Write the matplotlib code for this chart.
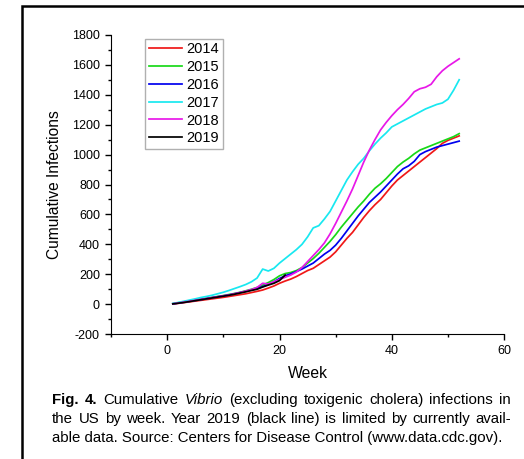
import matplotlib
matplotlib.use('Agg')
import matplotlib.pyplot as plt
from matplotlib.patches import Rectangle
from matplotlib.ticker import MultipleLocator

plt.rcParams['font.family'] = ['Liberation Sans', 'DejaVu Sans']
plt.rcParams['axes.unicode_minus'] = False

# weekly cumulative Vibrio infections
weeks = list(range(1, 53))
y2014 = [2, 6, 11, 16, 21, 26, 31, 36, 41, 46, 52, 58, 64, 70, 78, 86, 95, 108, 122, 140,
         155, 168, 185, 205, 225, 240, 265, 290, 315, 350, 395, 440, 480, 530, 580, 625, 665, 700,
         745, 790, 830, 860, 890, 920, 950, 980, 1010, 1040, 1075, 1095, 1110, 1125]
y2015 = [4, 10, 16, 22, 28, 34, 40, 46, 52, 58, 65, 72, 80, 90, 100, 112, 128, 145, 165, 190,
         205, 212, 225, 245, 275, 305, 340, 380, 420, 465, 515, 560, 605, 650, 690, 735, 775, 805,
         840, 880, 920, 950, 975, 1005, 1030, 1045, 1060, 1075, 1090, 1105, 1120, 1140]
y2016 = [3, 8, 14, 20, 26, 32, 38, 44, 50, 56, 62, 70, 78, 86, 95, 105, 118, 132, 150, 172,
         190, 203, 218, 235, 255, 275, 305, 335, 360, 395, 440, 490, 540, 590, 635, 680, 715, 750,
         790, 830, 870, 905, 925, 955, 1000, 1020, 1035, 1050, 1060, 1070, 1080, 1090]
y2017 = [5, 12, 20, 28, 36, 45, 52, 60, 70, 80, 92, 105, 118, 132, 150, 175, 235, 222, 240, 275,
         305, 335, 365, 400, 450, 510, 525, 570, 620, 690, 760, 830, 885, 935, 975, 1025, 1070, 1110,
         1145, 1185, 1205, 1225, 1245, 1265, 1285, 1305, 1320, 1335, 1345, 1370, 1430, 1500]
y2018 = [3, 8, 14, 20, 26, 32, 38, 44, 50, 56, 62, 70, 78, 88, 98, 112, 140, 135, 150, 165,
         180, 195, 215, 245, 285, 325, 365, 410, 470, 540, 615, 690, 770, 860, 950, 1030, 1100, 1165,
         1215, 1260, 1300, 1335, 1375, 1420, 1440, 1450, 1470, 1520, 1560, 1590, 1615, 1640]
weeks2019 = list(range(1, 22))
y2019 = [2, 7, 12, 18, 24, 30, 36, 42, 48, 54, 60, 67, 75, 83, 92, 100, 115, 128, 140, 158, 195]

series = [('2014', weeks, y2014, '#f01818'),
          ('2015', weeks, y2015, '#18d818'),
          ('2016', weeks, y2016, '#0000ee'),
          ('2017', weeks, y2017, '#18e8f0'),
          ('2018', weeks, y2018, '#e818e8'),
          ('2019', weeks2019, y2019, '#000000')]

fig = plt.figure(figsize=(5.24, 4.59), dpi=100)
ax = fig.add_axes([0.212, 0.272, 0.750, 0.652])

for name, x, y, c in series:
    ax.plot(x, y, color=c, lw=1.25, label=name)

ax.set_xlim(-10, 60)
ax.set_ylim(-200, 1800)
ax.xaxis.set_major_locator(MultipleLocator(20))
ax.xaxis.set_minor_locator(MultipleLocator(10))
ax.yaxis.set_major_locator(MultipleLocator(200))
ax.yaxis.set_minor_locator(MultipleLocator(100))
ax.spines['top'].set_visible(False)
ax.spines['right'].set_visible(False)
ax.tick_params(which='major', direction='out', length=4.5, width=1, labelsize=9)
ax.tick_params(which='minor', direction='out', length=2.5, width=1)
ax.set_xlabel('Week', fontsize=11.3, labelpad=6)
ax.set_ylabel('Cumulative Infections', fontsize=11.2, labelpad=7)

ax.legend(loc='upper left', bbox_to_anchor=(0.0865, 0.987), borderaxespad=0,
          fontsize=10.5, handlelength=2.3, handletextpad=0.3, labelspacing=0.26,
          borderpad=0.25, fancybox=False, framealpha=1, edgecolor='#b0b0b0')

# frame around the whole panel
fig.patches.append(Rectangle((22 / 524, -0.1), 2, 1 - 6 / 459 + 0.1, transform=fig.transFigure,
                             fill=False, edgecolor='black', lw=1.8, clip_on=False))

# justified caption
W, H = 524, 459
left, right = 52, 511
fs = 10.8
line1 = [('Fig.', 'bold', 'normal'), ('4.', 'bold', 'normal'), ('Cumulative', 'normal', 'normal'),
         ('Vibrio', 'normal', 'italic'), ('(excluding', 'normal', 'normal'),
         ('toxigenic', 'normal', 'normal'), ('cholera)', 'normal', 'normal'),
         ('infections', 'normal', 'normal'), ('in', 'normal', 'normal')]
line2 = [(w, 'normal', 'normal') for w in
         'the US by week. Year 2019 (black line) is limited by currently avail-'.split()]
renderer = fig.canvas.get_renderer()
for words, base in [(line1, 404), (line2, 423)]:
    texts = [fig.text(0, 1 - base / H, w, fontsize=fs, fontweight=fw, style=st, va='baseline')
             for w, fw, st in words]
    widths = [t.get_window_extent(renderer).width for t in texts]
    gap = (right - left - sum(widths)) / (len(texts) - 1)
    x = left
    for t, w in zip(texts, widths):
        t.set_x(x / W)
        x += w + gap
fig.text(left / W, 1 - 442 / H, 'able data. Source: Centers for Disease Control (www.data.cdc.gov).',
         fontsize=fs, va='baseline')

fig.savefig('out.png', dpi=100)
